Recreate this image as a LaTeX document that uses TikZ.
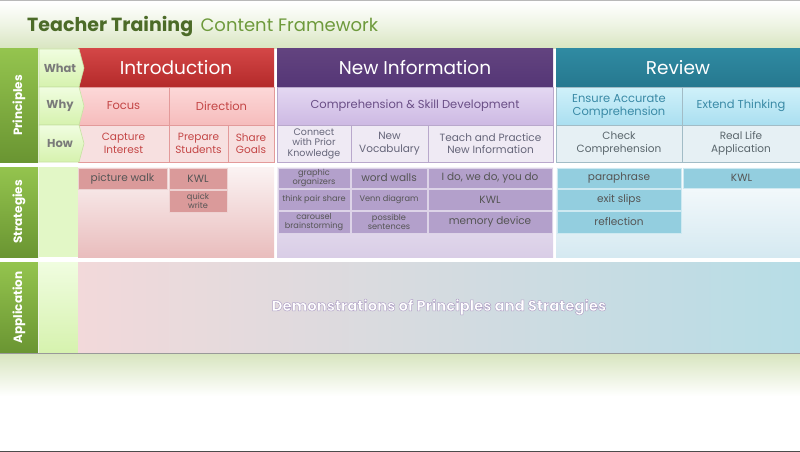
\documentclass[tikz,border=0pt]{standalone}
\usepackage{fontspec}
\setmainfont{Poppins}

% palette
\definecolor{hdrgreen}{HTML}{D8E5C0}
\definecolor{titledark}{HTML}{4C6B28}
\definecolor{titlelight}{HTML}{6E9A3C}
\definecolor{gtop}{HTML}{94C44E}
\definecolor{gbot}{HTML}{6A9532}
\definecolor{lgbase}{HTML}{E2F7C6}
\definecolor{lgtop}{HTML}{F0FDE0}
\definecolor{lgbot}{HTML}{D6F2AE}
\definecolor{lgline}{HTML}{C6E2A2}
\definecolor{rowlbl}{HTML}{7A7A7A}
% introduction
\definecolor{intop}{HTML}{D34646}
\definecolor{inbot}{HTML}{B42A2A}
\definecolor{inwhytop}{HTML}{FCD8D8}
\definecolor{inwhybot}{HTML}{F6BCBC}
\definecolor{inhow}{HTML}{F7E0E0}
\definecolor{inline}{HTML}{E39A9A}
\definecolor{intext}{HTML}{C44646}
\definecolor{inbox}{HTML}{DA9A9A}
\definecolor{instop}{HTML}{FBF3F3}
\definecolor{insbot}{HTML}{E9BDBD}
% new information
\definecolor{nitop}{HTML}{62437F}
\definecolor{nibot}{HTML}{553676}
\definecolor{niwhytop}{HTML}{E4D8F2}
\definecolor{niwhybot}{HTML}{CDB9E3}
\definecolor{nihow}{HTML}{EFEAF4}
\definecolor{niline}{HTML}{B9A8CC}
\definecolor{niwhytext}{HTML}{6A4E86}
\definecolor{nihowtext}{HTML}{66667A}
\definecolor{nibox}{HTML}{B3A0CB}
\definecolor{nistop}{HTML}{F3EFF7}
\definecolor{nisbot}{HTML}{D9CDE6}
% review
\definecolor{rvtop}{HTML}{2F8AA2}
\definecolor{rvbot}{HTML}{26788F}
\definecolor{rvwhytop}{HTML}{D0F1FA}
\definecolor{rvwhybot}{HTML}{AADFF0}
\definecolor{rvhow}{HTML}{E6F0F4}
\definecolor{rvline}{HTML}{A2BCC6}
\definecolor{rvwhytext}{HTML}{3A8AA6}
\definecolor{rvhowtext}{HTML}{5A666C}
\definecolor{rvbox}{HTML}{93CEDF}
\definecolor{rvstop}{HTML}{FBFDFE}
\definecolor{rvsbot}{HTML}{D5E9F1}
% application
\definecolor{apleft}{HTML}{F2D9DA}
\definecolor{apmid}{HTML}{E3E0EC}
\definecolor{apright}{HTML}{B7DDE6}
\definecolor{strtext}{HTML}{555555}

\newcommand\fTitle{\fontsize{19}{22}\selectfont}
\newcommand\fSub{\fontsize{18}{21}\selectfont}
\newcommand\fHead{\fontsize{18.5}{21}\selectfont}
\newcommand\fWhy{\fontsize{11.5}{13}\selectfont}
\newcommand\fHow{\fontsize{10.5}{12.5}\selectfont}
\newcommand\fHowS{\fontsize{9.5}{10.5}\selectfont}
\newcommand\fStr{\fontsize{10.5}{12}\selectfont}
\newcommand\fStrS{\fontsize{8.2}{9.2}\selectfont}
\newcommand\fSide{\fontsize{12}{14}\selectfont}
\newcommand\fRow{\fontsize{11.5}{13}\selectfont}
\newcommand\fApp{\fontsize{14.8}{17}\selectfont}

% outlined lettering: white fill with a soft purple rim
\newcommand\rimtext[1]{%
  \special{pdf:literal direct 2 Tr 0.5 w 0.70 0.64 0.78 RG}#1\special{pdf:literal direct 0 Tr}}

% a node filling the box (x1,y1)-(x2,y2)
\newcommand\gridcell[7]{%
  \node[#6, minimum width={(#4-#2)*1pt}, minimum height={(#5-#3)*1pt}]
    (#1) at ({(#2+#4)/2},{(#3+#5)/2}) {#7};}

\begin{document}
\begin{tikzpicture}[x=1pt,y=-1pt,
  cellbase/.style={inner sep=0pt, outer sep=0pt, align=center},
  inhead/.style={cellbase, top color=intop, bottom color=inbot, text=white, font=\fHead},
  inwhy/.style={cellbase, top color=inwhytop, bottom color=inwhybot, draw=inline, line width=0.6pt, text=intext, font=\fWhy},
  inhowc/.style={cellbase, fill=inhow, draw=inline, line width=0.6pt, text=intext, font=\fHow},
  nihead/.style={cellbase, top color=nitop, bottom color=nibot, text=white, font=\fHead},
  niwhy/.style={cellbase, top color=niwhytop, bottom color=niwhybot, draw=niline, line width=0.6pt, text=niwhytext, font=\fWhy},
  nihowc/.style={cellbase, fill=nihow, draw=niline, line width=0.6pt, text=nihowtext, font=\fHow},
  rvhead/.style={cellbase, top color=rvtop, bottom color=rvbot, text=white, font=\fHead},
  rvwhy/.style={cellbase, top color=rvwhytop, bottom color=rvwhybot, draw=rvline, line width=0.6pt, text=rvwhytext, font=\fWhy},
  rvhowc/.style={cellbase, fill=rvhow, draw=rvline, line width=0.6pt, text=rvhowtext, font=\fHow},
  inbx/.style={cellbase, fill=inbox, draw=white!55!inbox, line width=0.8pt, text=strtext, font=\fStr},
  nibx/.style={cellbase, fill=nibox, draw=white!55!nibox, line width=0.8pt, text=strtext, font=\fStr},
  rvbx/.style={cellbase, fill=rvbox, draw=white!55!rvbox, line width=0.8pt, text=strtext, font=\fStr},
  sidelabel/.style={rotate=90, text=white, font=\fSide\bfseries, inner sep=0pt},
  rowlabel/.style={text=rowlbl, font=\fRow\bfseries, inner sep=0pt},
  arrowcell/.style={top color=lgtop, bottom color=lgbot, draw=lgline, line width=0.6pt}
]
\useasboundingbox (0,0) rectangle (800,452);
\fill[white] (0,0) rectangle (800,452);

% ---- title band
\shade[top color=white, bottom color=hdrgreen, middle color=white!55!hdrgreen] (0,2) rectangle (800,49);
\draw[gray!55, line width=1.5pt] (0,0.75) -- (800,0.75);
\node[anchor=base west, inner sep=0pt, text=titledark, font=\fTitle\bfseries] (title) at (27,32) {Teacher Training};
\node[anchor=base west, inner sep=0pt, text=titlelight, font=\fSub] (subtitle) at ([xshift=7pt]title.base east) {Content Framework};

% ---- side columns
\foreach \nm/\lbl/\ya/\yb in {principles/Principles/49/162, strategies/Strategies/167/257, application/Application/262/353}{
  \shade[top color=gtop, bottom color=gbot] (0,\ya) rectangle (38,\yb);
  \fill[lgbase] (39,\ya) rectangle (78,\yb);
  \node[sidelabel] (\nm) at (19,{(\ya+\yb)/2}) {\lbl};
}
\shade[top color=lgtop, bottom color=lgbot] (39,262) rectangle (78,353);

% ---- principles: introduction
\gridcell{intro}{78}{49}{274}{87}{inhead}{Introduction}
\gridcell{focus}{78}{87}{169}{125}{inwhy}{Focus}
\gridcell{direction}{169}{87}{274}{125}{inwhy}{Direction}
\gridcell{capture}{78}{125}{169}{162}{inhowc}{Capture\\Interest}
\gridcell{prepare}{169}{125}{228}{162}{inhowc}{Prepare\\Students}
\gridcell{share}{228}{125}{274}{162}{inhowc}{Share\\Goals}

% ---- principles: new information
\gridcell{newinfo}{277}{49}{553}{87}{nihead}{New Information}
\gridcell{compskill}{277}{87}{553}{125}{niwhy}{Comprehension \& Skill Development}
\gridcell{connect}{277}{125}{351}{162}{nihowc,font=\fHowS}{Connect\\with Prior\\Knowledge}
\gridcell{vocab}{351}{125}{428}{162}{nihowc}{New\\Vocabulary}
\gridcell{teach}{428}{125}{553}{162}{nihowc}{Teach and Practice\\New Information}

% ---- principles: review
\gridcell{review}{556}{49}{800}{87}{rvhead}{Review}
\gridcell{ensure}{556}{87}{682}{125}{rvwhy}{Ensure Accurate\\Comprehension}
\gridcell{extend}{682}{87}{800}{125}{rvwhy}{Extend Thinking}
\gridcell{check}{556}{125}{682}{162}{rvhowc}{Check\\Comprehension}
\gridcell{reallife}{682}{125}{800}{162}{rvhowc}{Real Life\\Application}

% ---- what / why / how tabs
\foreach \nm/\lbl/\ya/\yb in {what/What/49/87, why/Why/87/125, how/How/125/162}{
  \shadedraw[arrowcell] (39,\ya) -- (79,\ya) -- (84,{(\ya+\yb)/2}) -- (79,\yb) -- (39,\yb) -- cycle;
  \node[rowlabel] (\nm) at (60,{(\ya+\yb)/2}) {\lbl};
}

% ---- strategies backgrounds
\shade[top color=instop, bottom color=insbot] (78,167) rectangle (274,257);
\shade[top color=nistop, bottom color=nisbot] (277,167) rectangle (553,257);
\shade[top color=rvstop, bottom color=rvsbot] (556,167) rectangle (800,257);

% ---- strategies: introduction
\gridcell{picwalk}{78}{168}{167}{189}{inbx}{picture walk}
\gridcell{kwlintro}{169}{168}{227}{189}{inbx}{KWL}
\gridcell{quickwrite}{169}{190}{227}{212}{inbx,font=\fStrS}{quick\\write}

% ---- strategies: new information
\gridcell{graphic}{278}{168}{350}{188}{nibx,font=\fStrS}{graphic\\organizers}
\gridcell{wordwalls}{351}{168}{427}{188}{nibx}{word walls}
\gridcell{ido}{428}{168}{552}{188}{nibx}{I do, we do, you do}
\gridcell{think}{278}{189}{350}{210}{nibx,font=\fStrS}{think pair share}
\gridcell{venn}{351}{189}{427}{210}{nibx,font=\fStrS}{Venn diagram}
\gridcell{kwlnew}{428}{189}{552}{210}{nibx}{KWL}
\gridcell{carousel}{278}{211}{350}{233}{nibx,font=\fStrS}{carousel\\brainstorming}
\gridcell{possible}{351}{211}{427}{233}{nibx,font=\fStrS}{possible\\sentences}
\gridcell{memory}{428}{211}{552}{233}{nibx}{memory device}

% ---- strategies: review
\gridcell{paraphrase}{557}{168}{681}{188}{rvbx}{paraphrase}
\gridcell{kwlreview}{683}{168}{800}{188}{rvbx}{KWL}
\gridcell{exitslips}{557}{189}{681}{210}{rvbx}{exit slips}
\gridcell{reflection}{557}{211}{681}{233}{rvbx}{reflection}

% ---- application
\shade[left color=apleft, middle color=apmid, right color=apright] (78,262) rectangle (800,353);
\node[text=white, font=\fApp\bfseries, inner sep=0pt] (demo) at (439,307) {\rimtext{Demonstrations of Principles and Strategies}};
\draw[gray!80, line width=1pt] (0,353.5) -- (800,353.5);

% ---- lower band
\shade[top color=hdrgreen, bottom color=white] (0,354) rectangle (800,396);
\draw[black!70, line width=1.5pt] (0,451.25) -- (800,451.25);
\end{tikzpicture}
\end{document}
